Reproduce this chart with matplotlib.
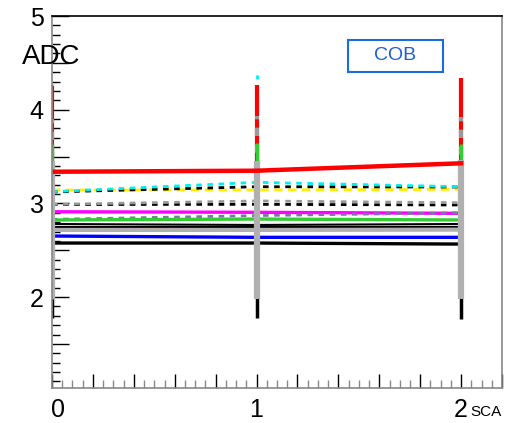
import matplotlib
matplotlib.use("Agg")
import matplotlib.pyplot as plt
import matplotlib.transforms as mtransforms
from matplotlib.ticker import MultipleLocator, FuncFormatter

plt.rcParams['font.family'] = ['Liberation Sans', 'DejaVu Sans']

# SCA index
sca = [0, 1, 2]

# one list per channel (ADC value at each SCA) and its error
black_low = [2.577, 2.577, 2.566]
blue_solid = [2.652, 2.638, 2.638]
black_mid2 = [2.750, 2.750, 2.750]
black_mid = [2.780, 2.770, 2.780]
green_solid = [2.823, 2.833, 2.823]
magenta_solid = [2.911, 2.905, 2.894]
slate_dot = [2.830, 2.870, 2.900]
black_dot2 = [2.988, 2.990, 2.983]
gray_dot = [2.990, 3.026, 3.007]
yellow_dash = [3.143, 3.143, 3.150]
black_dot1 = [3.122, 3.178, 3.175]
cyan_dot = [3.125, 3.225, 3.178]
red_solid = [3.338, 3.349, 3.428]
gray_solid = [2.717, 2.717, 2.720]

err_black_low = 0.80
err_blue_solid = 0.60
err_black_mid2 = 0.60
err_black_mid = 0.70
err_green_solid = 0.81
err_magenta_solid = 0.70
err_slate_dot = 0.60
err_black_dot2 = 0.80
err_gray_dot = 0.91
err_yellow_dash = 0.50
err_black_dot1 = 0.90
err_cyan_dot = 1.15
err_red_solid = 0.91
err_gray_solid = 0.74

legend_label = "COB"

fig = plt.figure(figsize=(5.16, 4.23), dpi=100)
ax = fig.add_axes([52/516, 1-388/423, 450/516, 372/423])

# (values, error, colour, line style, line width, bar width, line z, bar z, bar style)
series = [
    (black_low, err_black_low, 'black', '-', 2.4, 2.5, 2.0, 1.0, '-'),
    (blue_solid, err_blue_solid, '#0000ff', '-', 2.4, 2.0, 2.0, 1.1, '-'),
    (black_mid2, err_black_mid2, 'black', '-', 1.5, 2.0, 2.0, 1.2, '-'),
    (black_mid, err_black_mid, 'black', '-', 1.5, 2.0, 2.0, 1.3, '-'),
    (magenta_solid, err_magenta_solid, '#ff00ff', '-', 2.4, 2.0, 2.0, 1.4, '-'),
    (slate_dot, err_slate_dot, '#7777aa', (0, (2, 2)), 2.0, 2.0, 2.0, 1.5, (0, (2, 2))),
    (black_dot2, err_black_dot2, 'black', (0, (2, 2)), 2.0, 2.0, 2.0, 1.6, (0, (2, 2))),
    (yellow_dash, err_yellow_dash, '#ffee00', (0, (3, 2)), 2.0, 2.0, 2.0, 1.7, (0, (3, 2))),
    (black_dot1, err_black_dot1, 'black', (0, (2, 2)), 2.0, 2.0, 2.0, 1.8, (0, (2, 2))),
    (cyan_dot, err_cyan_dot, '#00eeee', (0, (2, 2)), 2.0, 2.0, 2.0, 1.9, (0, (2, 2))),
    (red_solid, err_red_solid, '#ff0000', '-', 3.2, 3.0, 4.0, 2.1, '-'),
    (gray_dot, err_gray_dot, '#999999', (0, (2, 2)), 2.0, 3.0, 2.0, 2.2, (0, (2, 2))),
    (green_solid, err_green_solid, '#33cc33', '-', 2.4, 2.5, 2.0, 2.3, '-'),
    (gray_solid, err_gray_solid, '#b0b0b0', '-', 3.0, 4.5, 2.05, 3.0, '-'),
]

for vals, err, col, ls, lw, bw, lz, bz, bls in series:
    ax.plot(sca, vals, color=col, ls=ls, lw=lw, zorder=lz)
    lo = [v - err for v in vals]
    hi = [v + err for v in vals]
    ax.vlines(sca, lo, hi, colors=col, linestyles=bls, lw=bw, zorder=bz)

ax.set_xlim(0, 2.2)
ax.set_ylim(1.03, 5)

ax.xaxis.set_major_locator(MultipleLocator(0.2))
ax.xaxis.set_minor_locator(MultipleLocator(0.05))
ax.yaxis.set_major_locator(MultipleLocator(0.5))
ax.yaxis.set_minor_locator(MultipleLocator(0.1))

def int_only(v, pos):
    if abs(v - round(v)) < 1e-6:
        return "%d" % round(v)
    return ""

ax.xaxis.set_major_formatter(FuncFormatter(int_only))
ax.yaxis.set_major_formatter(FuncFormatter(int_only))

ax.tick_params(axis='both', which='both', direction='in', top=False, right=False,
               labelsize=18)
ax.tick_params(axis='x', which='major', length=10, width=1, pad=7, colors='black')
ax.tick_params(axis='x', which='minor', length=6, width=1, color='#888888')
ax.tick_params(axis='y', which='major', length=12, width=1, pad=6)
ax.tick_params(axis='y', which='minor', length=6, width=1)

# the "0" label sits a little right of its tick, as in the original
fig.canvas.draw()
shift = mtransforms.ScaledTranslation(6/100, 0, fig.dpi_scale_trans)
for lab in ax.get_xticklabels():
    if lab.get_text() == "0":
        lab.set_transform(lab.get_transform() + shift)

ax.spines['top'].set_color('black')
ax.spines['right'].set_color('#888888')
ax.spines['bottom'].set_color('#888888')
ax.spines['left'].set_color('#888888')
for s in ax.spines.values():
    s.set_linewidth(1.2)
    s.set_zorder(5)

fig.text(80/516, 1-57/423, "ADC", ha='right', va='center', fontsize=20)
fig.text(470/516, 1-412/423, "SCA", ha='left', va='center', fontsize=11)

# legend frame with the label
rect = plt.Rectangle((348/516, 1-72/423), 95/516, 32/423, transform=fig.transFigure,
                     facecolor='white', edgecolor='#1a6be0', lw=1.5, zorder=9)
fig.patches.append(rect)
fig.text(395.5/516, 1-56/423, legend_label, ha='center', va='center', fontsize=14,
         color='#1a5fd6', zorder=10)

fig.savefig("out.png", dpi=100)
